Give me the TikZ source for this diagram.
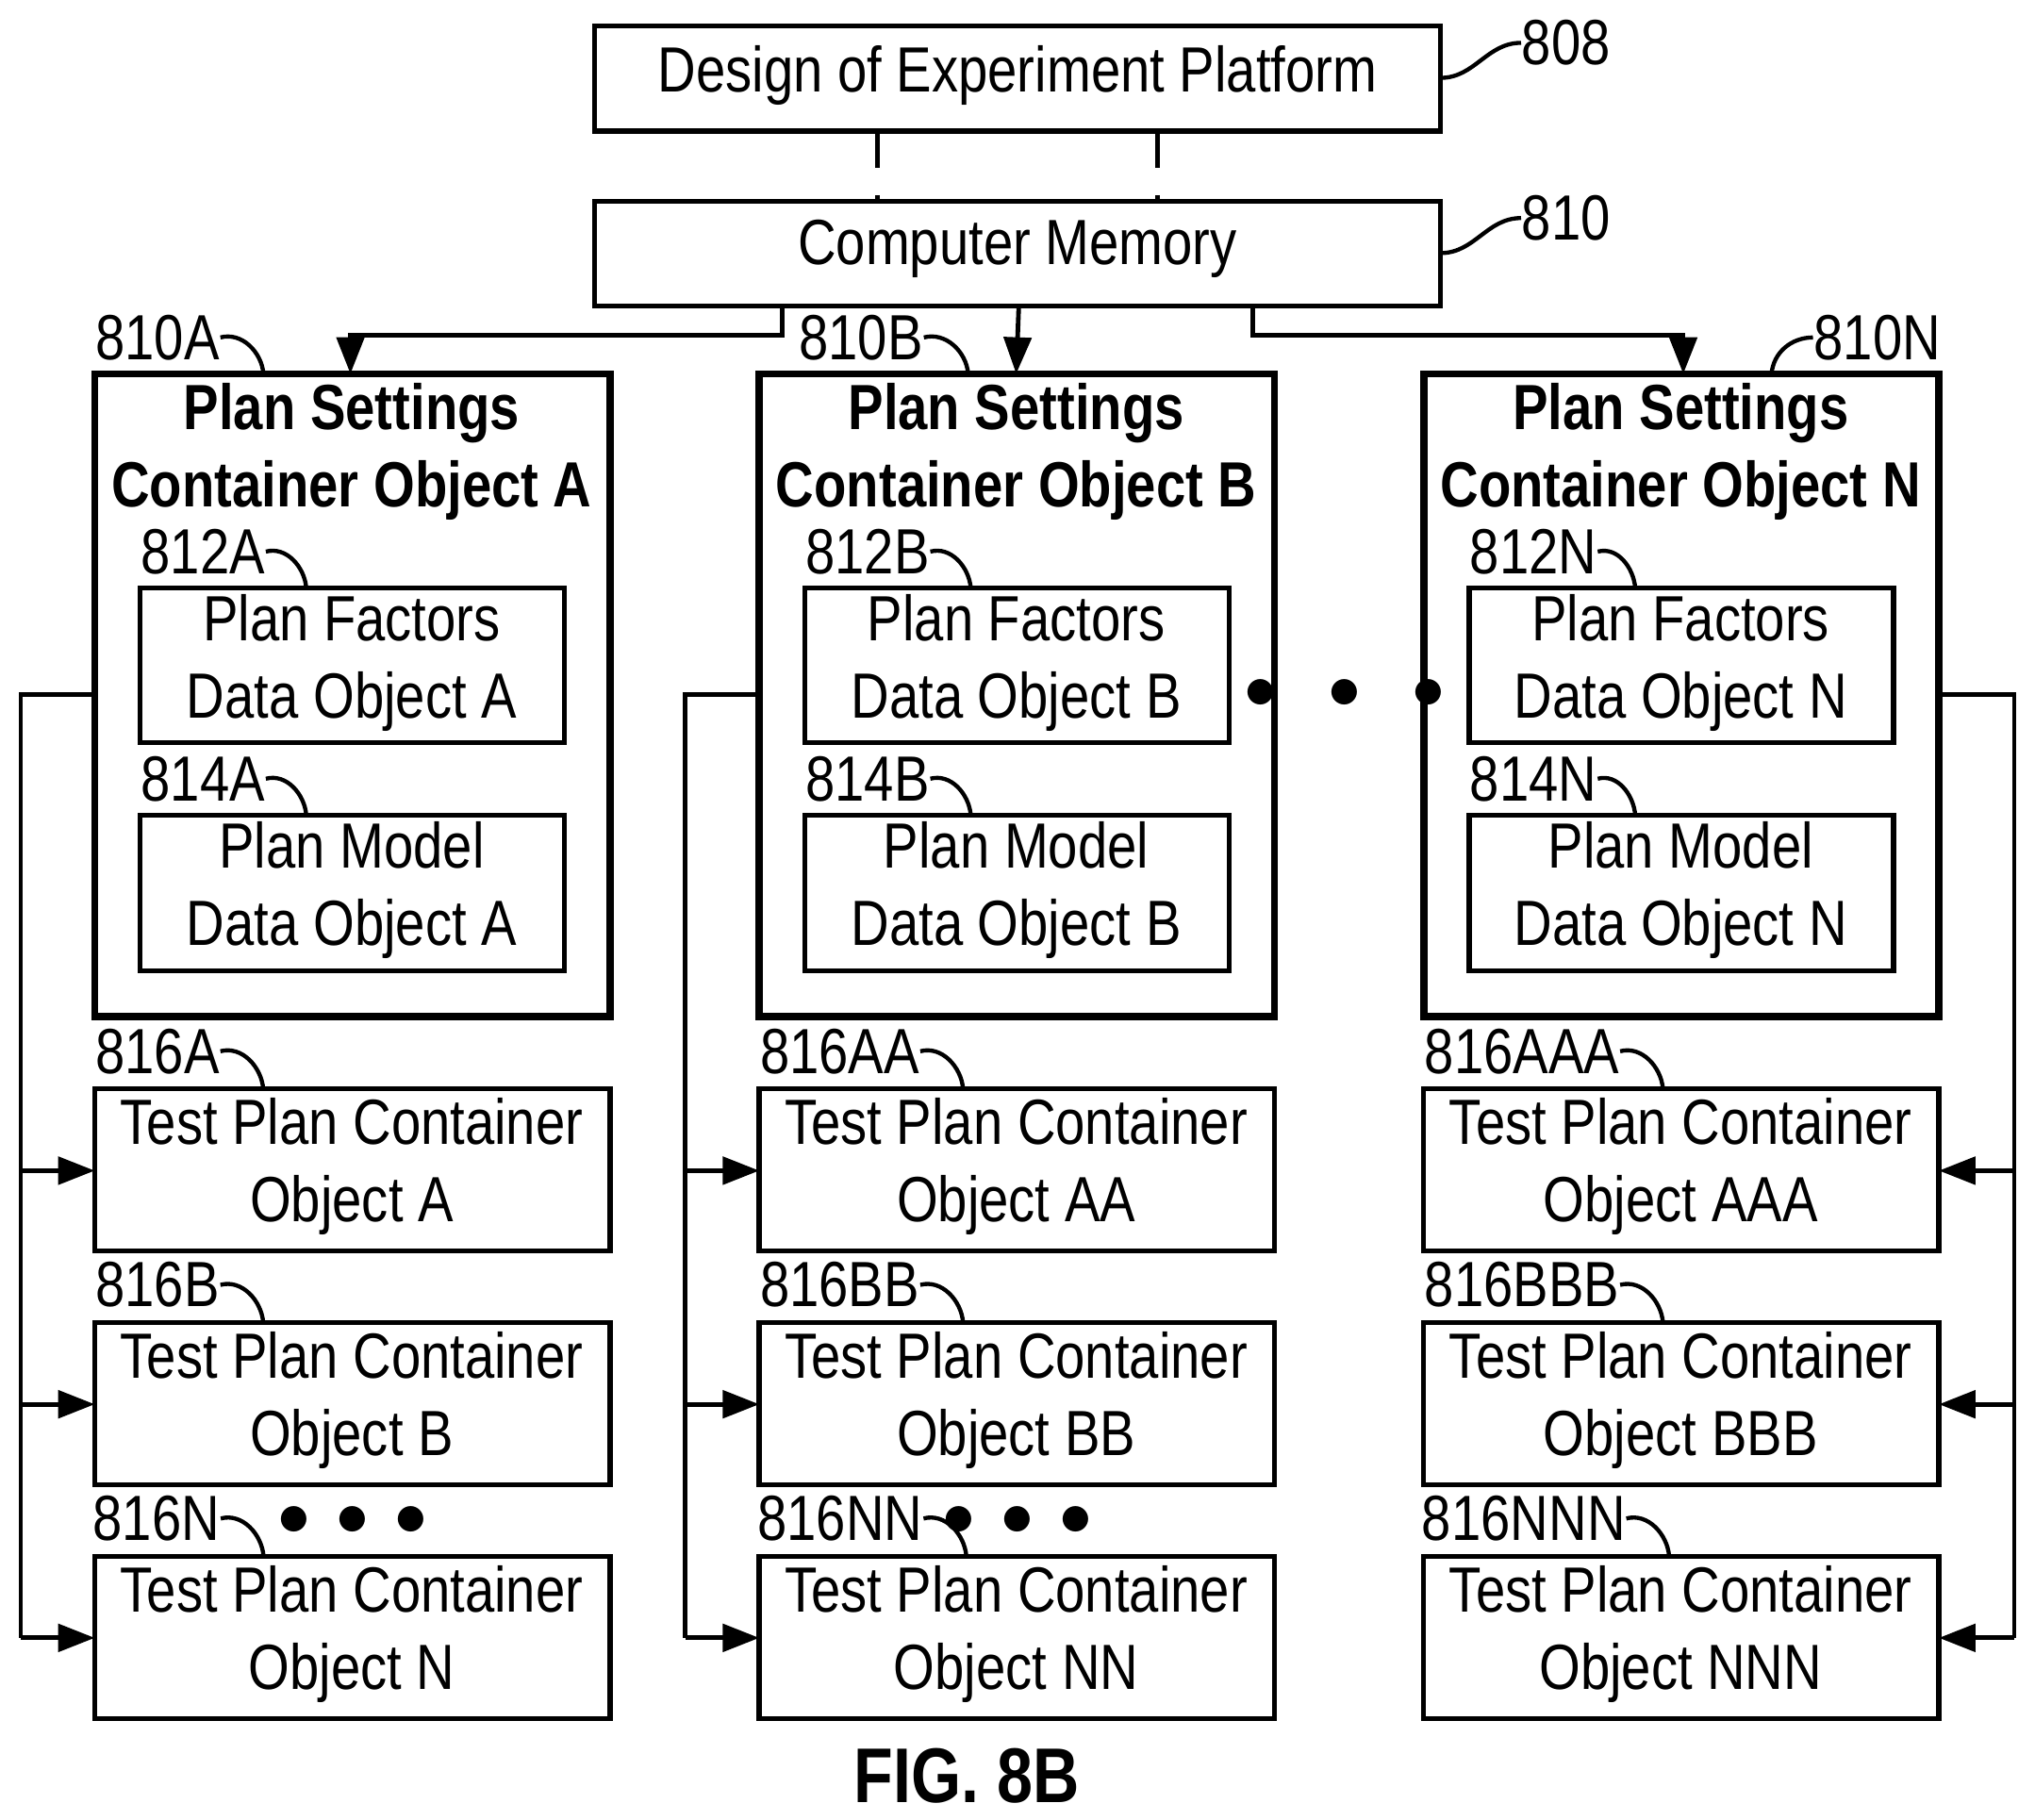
\documentclass[tikz,border=0pt]{standalone}
\usepackage{fontspec}
\setmainfont{Liberation Sans}[FakeStretch=0.83]
\usetikzlibrary{arrows.meta,calc}
\begin{document}
\begin{tikzpicture}[x=0.01cm,y=-0.01cm,
  box/.style={draw,line width=1.1pt,inner sep=0pt},
  cont/.style={draw,line width=1.6pt,inner sep=0pt},
  txt/.style={font=\fontsize{14pt}{17pt}\selectfont,align=center,inner sep=0pt},
  btxt/.style={font=\fontsize{14pt}{17pt}\selectfont\bfseries,align=center,inner sep=0pt},
  lab/.style={font=\fontsize{14pt}{17pt}\selectfont,inner sep=0pt},
  ld/.style={line width=0.9pt},
  dots/.style={font=\fontsize{14pt}{17pt}\selectfont\bfseries,inner sep=0pt},
  ar/.style={line width=1pt,-{Triangle[length=8pt,width=6pt]}}]
\useasboundingbox (0,0) rectangle (1568,1402);
% top boxes
\draw[box] (458,20) rectangle (1110,101);
\node[txt] (t808) at (784,58) {Design of Experiment Platform};
\coordinate (b808) at (1110,60);
\draw[box] (458,155) rectangle (1110,236);
\node[txt] (t810) at (784,192) {Computer Memory};
\coordinate (b810) at (1110,195);
\node[lab,anchor=west] (l808) at (1172,33) {808};
\node[lab,anchor=west] (l810) at (1172,168) {810};
\draw[ld] (b808) to[out=0,in=180] (l808.west);
\draw[ld] (b810) to[out=0,in=180] (l810.west);
\draw[line width=1pt,dash pattern=on 8pt off 6pt] (676,101) -- (676,155) (892,101) -- (892,155);
% containers
\foreach \n/\x/\L/\aa/\bb/\cc in {A/73/A/A/B/N, B/585/B/AA/BB/NN, N/1097/N/AAA/BBB/NNN}{
  \draw[cont] (\x,288) rectangle ++(397,495);
  \coordinate (top\n) at (\x+198,288);
  \node[btxt] (title\n) at (\x+198,348) {Plan Settings\\Container Object \L};
  \draw[box] (\x+35,453) rectangle ++(327,119);
  \node[txt] (pf\n) at (\x+198,511) {Plan Factors\\Data Object \L};
  \draw[box] (\x+35,628) rectangle ++(327,120);
  \node[txt] (pm\n) at (\x+198,686) {Plan Model\\Data Object \L};
  \node[lab,anchor=west] (l812\n) at (\x+35,425) {812\n};
  \draw[ld] (l812\n.east) to[out=15,in=95] (\x+163,453);
  \node[lab,anchor=west] (l814\n) at (\x+35,600) {814\n};
  \draw[ld] (l814\n.east) to[out=15,in=95] (\x+163,628);
  \foreach \y/\s in {839/\aa,1019/\bb,1199/\cc}{
    \draw[box] (\x,\y) rectangle ++(397,125);
    \node[txt] at (\x+198,\y+60) {Test Plan Container\\Object \s};
  }
}
% test labels
\foreach \x/\a/\b/\c in {0/816A/816B/816N, 512/816AA/816BB/816NN, 1024/816AAA/816BBB/816NNN}{
  \node[lab,anchor=west] (la\a) at (\x+73,810) {\a};
  \draw[ld] (la\a.east) to[out=15,in=95] ($(la\a.east)+(33,29)$);
  \node[lab,anchor=west] (lb\b) at (\x+73,990) {\b};
  \draw[ld] (lb\b.east) to[out=15,in=95] ($(lb\b.east)+(33,29)$);
  \node[lab,anchor=west] (lc\c) at (\x+71,1170) {\c};
  \draw[ld] (lc\c.east) to[out=15,in=95] ($(lc\c.east)+(33,29)$);
}
\node[dots] (d1) at (272,1172) {$\bullet\,\bullet\,\bullet$};
\node[dots] (d2) at (784,1172) {$\bullet\,\bullet\,\bullet$};
\node[dots] (d3) at (1036,535) {$\bullet\;\;\bullet\;\;\bullet$};
% container labels
\node[lab,anchor=west] (l810A) at (73,260) {810A};
\draw[ld] (l810A.east) to[out=15,in=95] (203,288);
\node[lab,anchor=west] (l810B) at (615,260) {810B};
\draw[ld] (l810B.east) to[out=15,in=95] (746,288);
\node[lab,anchor=east] (l810N) at (1496,260) {810N};
\draw[ld] (l810N.west) to[out=180,in=85] (1365,288);
% arrows from memory
\draw[ar] (603,236) -- (603,258) -- (270,258) -- (270,288);
\draw[ar] (785,236) -- (topB);
\draw[ar] (965,236) -- (965,258) -- (1297,258) -- (1297,288);
% side connectors
\foreach \x/\s in {73/16,585/528}{
  \draw[line width=1pt] (\x,535) -- (\s,535) -- (\s,1262);
  \foreach \y in {902,1082,1262} \draw[ar] (\s,\y) -- (\x,\y);
}
\draw[line width=1pt] (1494,535) -- (1552,535) -- (1552,1262);
\foreach \y in {902,1082,1262} \draw[ar] (1552,\y) -- (1494,\y);
\node[font=\fontsize{17pt}{20pt}\selectfont\bfseries,inner sep=0pt] (fig) at (745,1368) {FIG. 8B};
\end{tikzpicture}
\end{document}
